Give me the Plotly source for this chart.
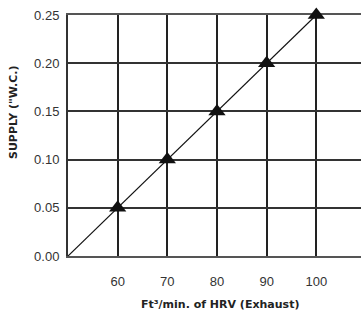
import plotly.graph_objects as go

flow = [50, 60, 70, 80, 90, 100]
supply = [0.0, 0.05, 0.10, 0.15, 0.20, 0.25]
marker_flow = [60, 70, 80, 90, 100]
marker_supply = [0.05, 0.10, 0.15, 0.20, 0.25]
x_ticks = [60, 70, 80, 90, 100]
y_ticks = [0.0, 0.05, 0.10, 0.15, 0.20, 0.25]
y_tick_text = ["0.00", "0.05", "0.10", "0.15", "0.20", "0.25"]

fig = go.Figure()
fig.add_trace(go.Scatter(x=flow, y=supply, mode="lines",
                         line=dict(color="#111111", width=1.2),
                         cliponaxis=False, showlegend=False, hoverinfo="skip"))
fig.add_trace(go.Scatter(x=marker_flow, y=marker_supply, mode="markers",
                         marker=dict(symbol="triangle-up", size=15, color="#111111"),
                         cliponaxis=False, showlegend=False))

font = "Liberation Sans, Arial, sans-serif"
title_font = "DejaVu Sans, Verdana, sans-serif"
fig.update_layout(
    width=361, height=312,
    margin=dict(l=68, r=0, t=15, b=56),
    paper_bgcolor="white", plot_bgcolor="white",
    font=dict(family=font, color="#222222"),
    xaxis=dict(range=[50, 109], tickvals=x_ticks, showgrid=True,
               gridcolor="#222222", gridwidth=1.5, zeroline=False,
               showline=True, mirror=True, linecolor="#555555", linewidth=2,
               layer="below traces",
               ticks="", tickfont=dict(size=13, color="#333333"), ticklabelstandoff=12),
    yaxis=dict(range=[0, 0.25], tickvals=y_ticks, ticktext=y_tick_text, showgrid=True,
               gridcolor="#333333", gridwidth=1.5, zeroline=False,
               showline=True, linecolor="#333333", linewidth=2,
               layer="below traces",
               ticks="", tickfont=dict(size=13, color="#333333"), ticklabelstandoff=4),
    annotations=[
        dict(text="<b>Ft³/min. of HRV (Exhaust)</b>", xref="paper", yref="paper",
             x=(220 - 68) / 293, y=-(304 - 256) / 241, xanchor="center", yanchor="middle",
             showarrow=False, font=dict(size=11, family=title_font, color="#222222")),
        dict(text="<b>SUPPLY (\"W.C.)</b>", xref="paper", yref="paper", textangle=-90,
             x=(13 - 68) / 293, y=(256 - 112) / 241, xanchor="center", yanchor="middle",
             showarrow=False, font=dict(size=11, family=title_font, color="#222222")),
    ],
)
fig.write_html("out.html", config={"displayModeBar": False},
               post_script="document.body.style.margin='0';document.body.style.overflow='hidden';")
